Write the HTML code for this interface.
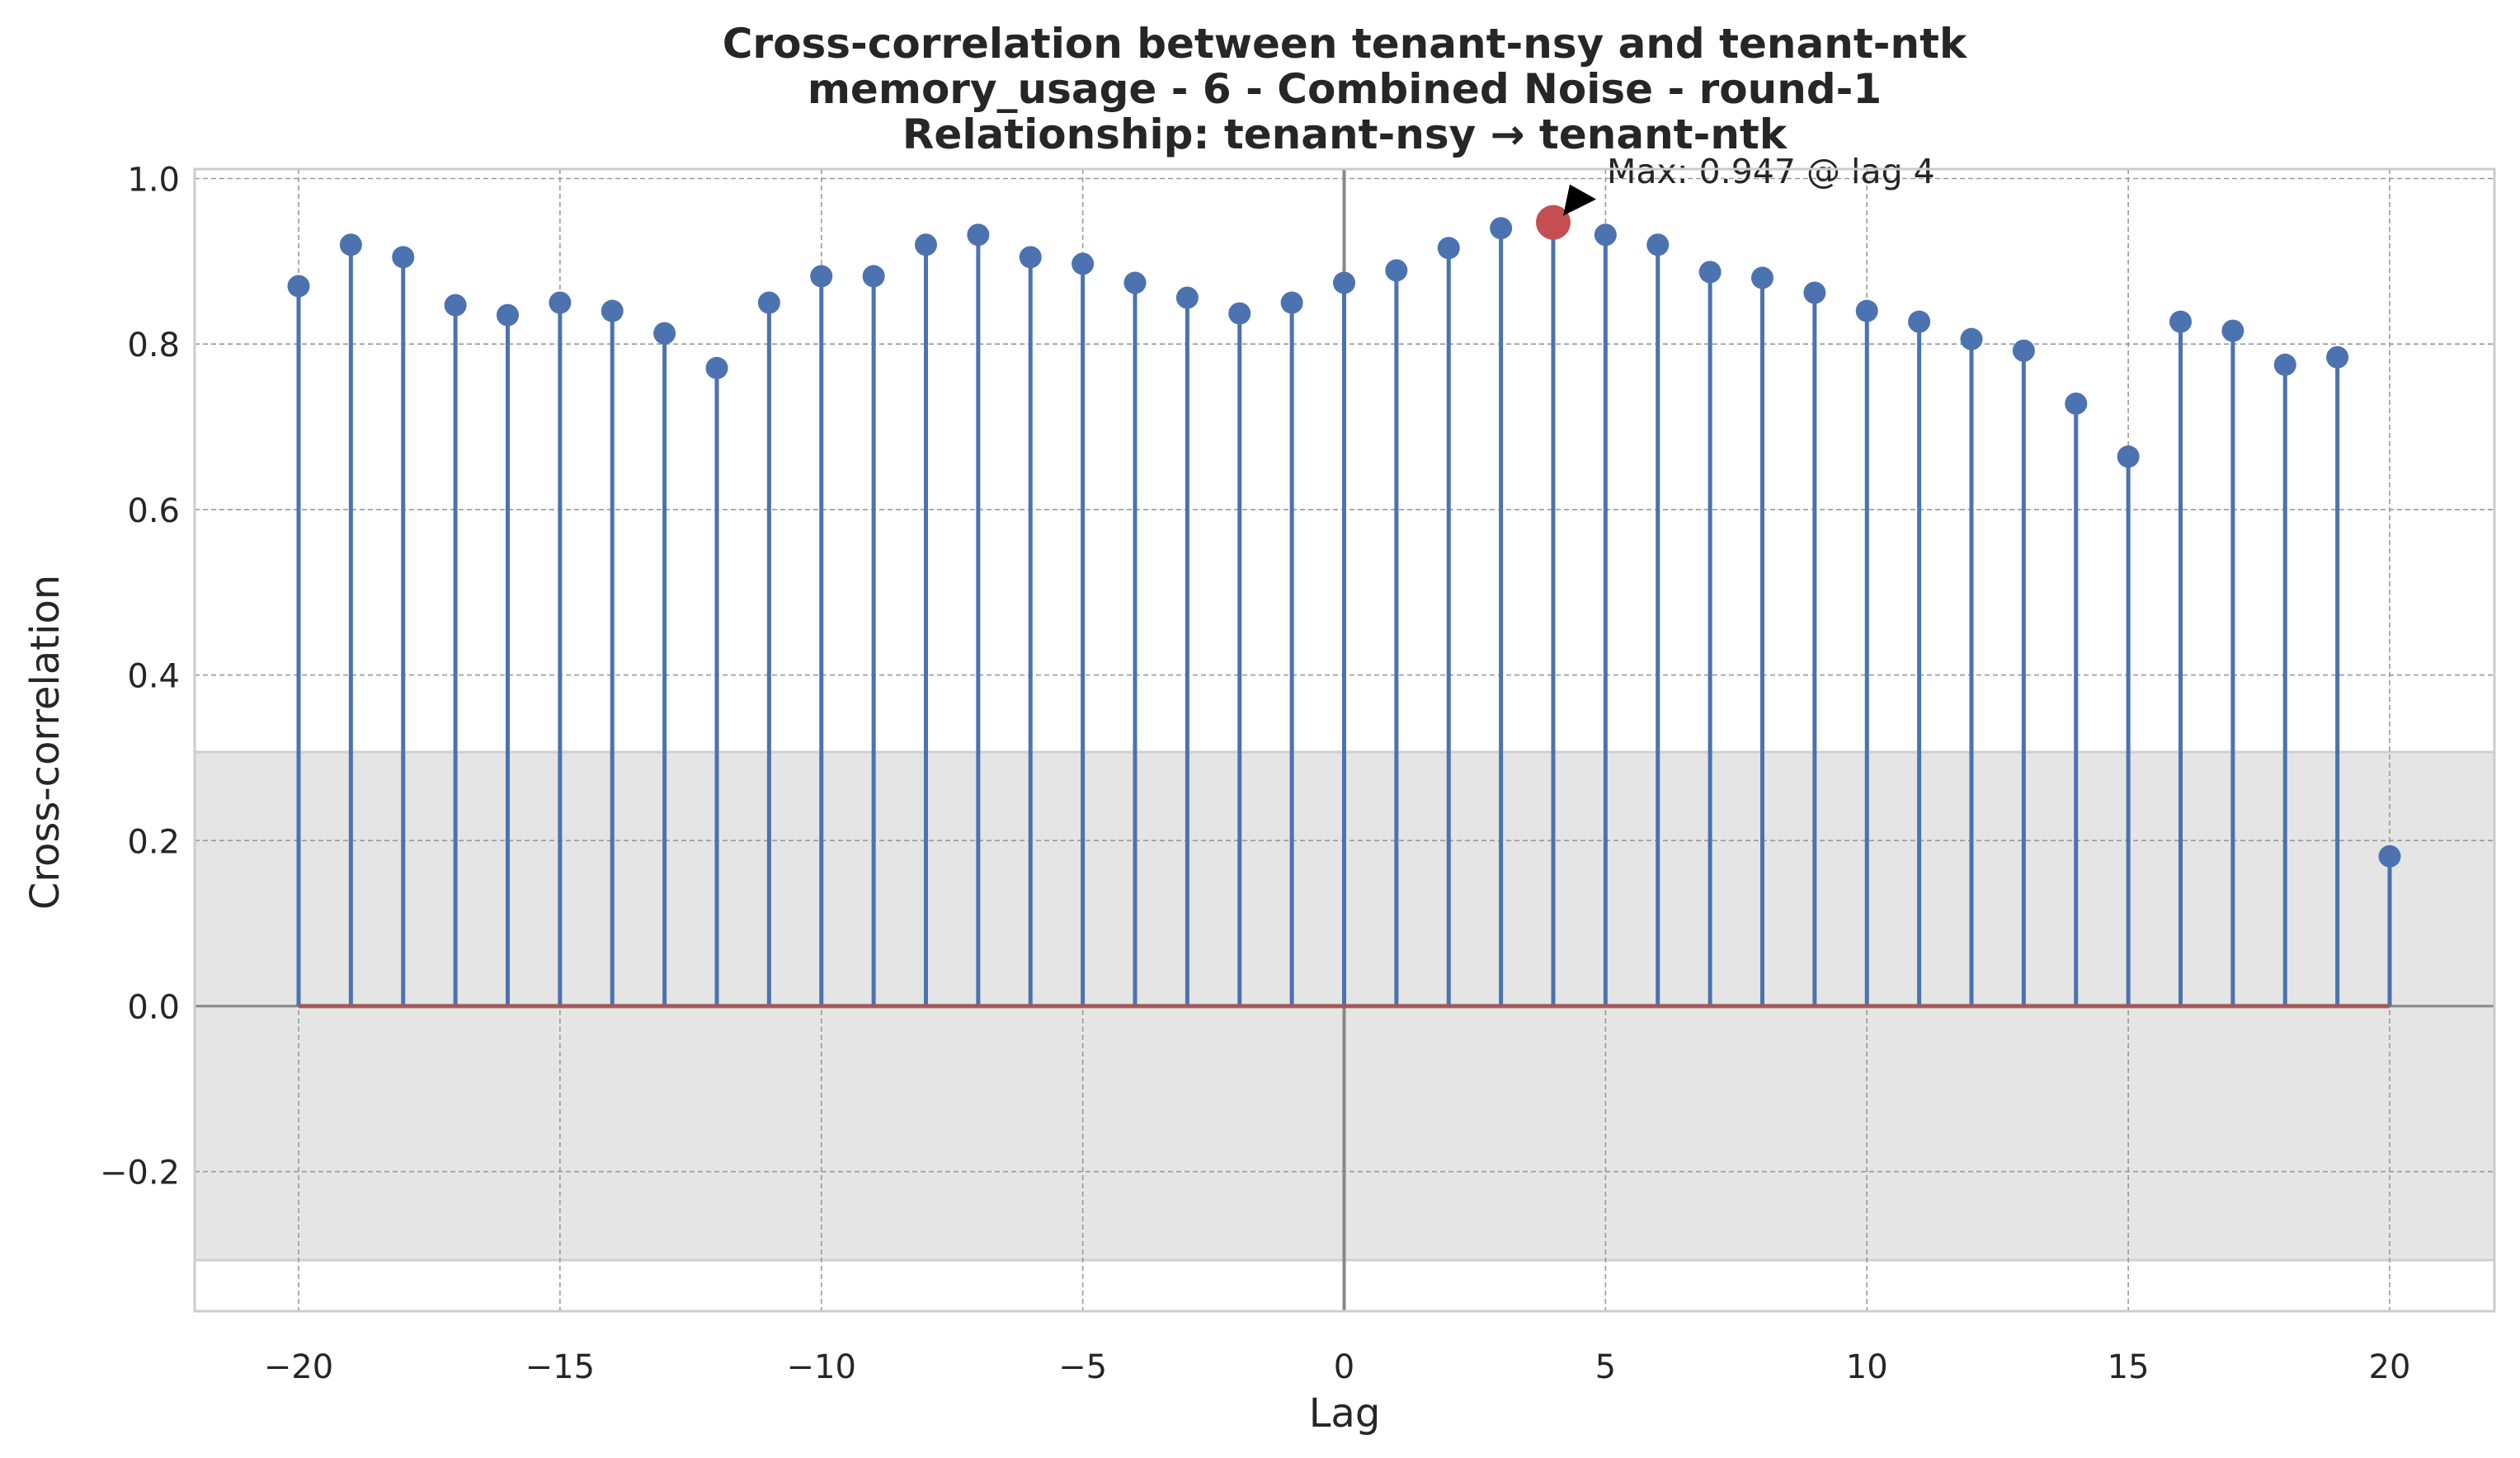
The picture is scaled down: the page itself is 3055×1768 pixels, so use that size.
<!DOCTYPE html>
<html><head><meta charset="utf-8"><style>
html,body{margin:0;padding:0;background:#fff}
svg{display:block;font-family:"DejaVu Sans","Liberation Sans",sans-serif}
</style></head><body>
<svg id="chart" width="3055" height="1768" viewBox="0 0 3055 1768" xmlns="http://www.w3.org/2000/svg">
<rect width="3055" height="1768" fill="#fff"/>
<g id="titles" font-weight="bold" font-size="50" fill="#262626" text-anchor="middle">
<text x="1630" y="70">Cross-correlation between tenant-nsy and tenant-ntk</text>
<text x="1630" y="125">memory_usage - 6 - Combined Noise - round-1</text>
<text x="1630" y="180">Relationship: tenant-nsy → tenant-ntk</text>
</g>
<g id="plot"></g>
</svg>
<script>
const lags = [-20,-19,-18,-17,-16,-15,-14,-13,-12,-11,-10,-9,-8,-7,-6,-5,-4,-3,-2,-1,0,1,2,3,4,5,6,7,8,9,10,11,12,13,14,15,16,17,18,19,20];
const corrValues = [0.870,0.920,0.905,0.847,0.835,0.850,0.840,0.813,0.771,0.850,0.882,0.882,0.920,0.932,0.905,0.897,0.874,0.856,0.837,0.850,0.874,0.889,0.916,0.940,0.947,0.932,0.920,0.887,0.880,0.862,0.840,0.827,0.806,0.792,0.728,0.664,0.827,0.816,0.775,0.784,0.181];
const xTicks = [-20,-15,-10,-5,0,5,10,15,20];
const yTicks = [-0.2,0.0,0.2,0.4,0.6,0.8,1.0];
const confBand = [-0.307, 0.307];

const L=236,R=3024,T=205,B=1590;
const xs = v => 362 + (v+20)*(2897-362)/40;
const ys = v => 1220 - v*1003.5;
const NS="http://www.w3.org/2000/svg";
const g=document.getElementById('plot');
function mk(tag,attrs,parent){const e=document.createElementNS(NS,tag);for(const k in attrs)e.setAttribute(k,attrs[k]);(parent||g).appendChild(e);return e;}

let band=mk('rect',{x:L,y:ys(confBand[1]),width:R-L,height:ys(confBand[0])-ys(confBand[1]),fill:'#e5e5e5'});


band.setAttribute('stroke','#d0d0d0');band.setAttribute('stroke-width','3');

xTicks.forEach(t=>{
  const l=mk('line',{x1:xs(t),x2:xs(t),y1:T,y2:B,stroke:'#999','stroke-width':1.6,'stroke-dasharray':'6,4'});
  
  
  const tx=mk('text',{x:xs(t),y:1671,'font-size':40,fill:'#262626','text-anchor':'middle'});
  tx.textContent=(t<0?'\u2212'+(-t):t);
  
  
});
yTicks.forEach(t=>{
  const l=mk('line',{x1:L,x2:R,y1:ys(t),y2:ys(t),stroke:'#999','stroke-width':1.6,'stroke-dasharray':'6,4'});
  
  
  const tx=mk('text',{x:218,y:ys(t)+15,'font-size':40,fill:'#262626','text-anchor':'end'});
  tx.textContent=(t<0?'\u2212':'')+Math.abs(t).toFixed(1);
  
  
});

let vz=mk('line',{x1:xs(0),x2:xs(0),y1:T,y2:B,stroke:'#888','stroke-width':4});


let hz=mk('line',{x1:L,x2:R,y1:ys(0),y2:ys(0),stroke:'#888','stroke-width':3});



lags.forEach((lag,i)=>{
  const s=mk('line',{x1:xs(lag),x2:xs(lag),y1:ys(0),y2:ys(corrValues[i]),stroke:'#4c72b0','stroke-width':5});
  
  
});
let base=mk('line',{x1:xs(lags[0]),x2:xs(lags[lags.length-1]),y1:ys(0),y2:ys(0),stroke:'#a05a5a','stroke-width':5});


lags.forEach((lag,i)=>{
  const c=mk('circle',{cx:xs(lag),cy:ys(corrValues[i]),r:13.5,fill:'#4c72b0'});
  
  
});

let mi=0;corrValues.forEach((v,i)=>{if(v>corrValues[mi])mi=i;});
const mx=xs(lags[mi]),my=ys(corrValues[mi]);
let mc=mk('circle',{cx:mx,cy:my,r:21,fill:'#c44e52'});


let ar=mk('polygon',{points:`${mx+12},${my-8} ${mx+20},${my-46} ${mx+52},${my-28}`,fill:'#000'});


let at=mk('text',{x:1948,y:222,'font-size':41,fill:'#262626'});
at.textContent='Max: '+corrValues[mi].toFixed(3)+' @ lag '+lags[mi];



let fr=mk('rect',{x:L,y:T,width:R-L,height:B-T,fill:'none',stroke:'#ccc','stroke-width':3});



let xl=mk('text',{x:(L+R)/2,y:1730,'font-size':48,fill:'#262626','text-anchor':'middle'});
xl.textContent='Lag';


let yl=mk('text',{x:0,y:0,'font-size':48,fill:'#262626','text-anchor':'middle',transform:`translate(71,900) rotate(-90)`});
yl.textContent='Cross-correlation';


</script>
</body></html>
